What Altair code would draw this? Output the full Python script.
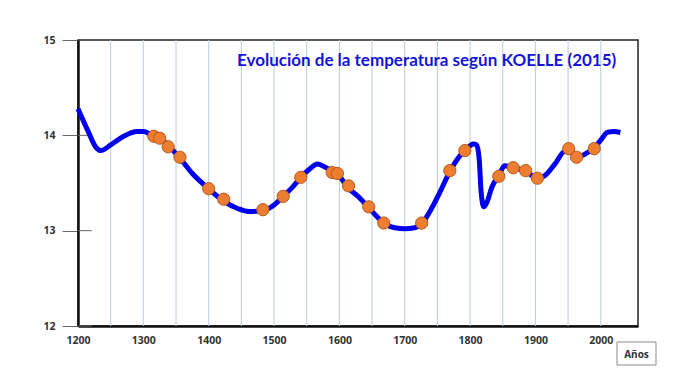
import altair as alt
import pandas as pd

# Curve (year, temperature)
line_years = [1200, 1215, 1228, 1235, 1250, 1270, 1290, 1300, 1316, 1327, 1340, 1356,
              1375, 1400, 1423, 1445, 1462, 1483, 1500, 1514, 1530, 1541, 1555, 1566,
              1580, 1590, 1598, 1612, 1630, 1645, 1660, 1670, 1685, 1700, 1715, 1727,
              1740, 1755, 1769, 1785, 1795, 1805, 1810, 1814, 1817, 1821, 1826, 1833,
              1844, 1853, 1866, 1878, 1890, 1903, 1915, 1930, 1945, 1955, 1963, 1975,
              1990, 2000, 2010, 2020, 2030]
line_temps = [14.28, 14.05, 13.87, 13.84, 13.90, 13.99, 14.04, 14.04, 13.99, 13.96, 13.88, 13.76,
              13.60, 13.44, 13.31, 13.23, 13.20, 13.21, 13.27, 13.36, 13.47, 13.56, 13.65, 13.70,
              13.66, 13.62, 13.59, 13.46, 13.35, 13.24, 13.13, 13.07, 13.03, 13.02, 13.03, 13.08,
              13.22, 13.42, 13.62, 13.79, 13.86, 13.91, 13.90, 13.75, 13.40, 13.25, 13.30, 13.45,
              13.58, 13.68, 13.66, 13.64, 13.60, 13.55, 13.58, 13.70, 13.83, 13.82, 13.77, 13.80,
              13.87, 13.95, 14.03, 14.04, 14.03]

# Orange data points
point_years = [1316, 1325, 1338, 1356, 1400, 1423, 1483, 1514, 1541, 1589, 1597, 1614,
               1645, 1668, 1726, 1769, 1792, 1844, 1866, 1885, 1903, 1951, 1963, 1990]
point_temps = [13.99, 13.97, 13.88, 13.77, 13.44, 13.33, 13.22, 13.36, 13.56, 13.61, 13.60, 13.47,
               13.25, 13.08, 13.08, 13.63, 13.84, 13.57, 13.66, 13.63, 13.55, 13.86, 13.77, 13.86]

grid_years = [1250, 1300, 1350, 1400, 1450, 1500, 1550, 1600, 1650, 1700, 1750, 1800,
              1850, 1900, 1950, 2000]
x_labels = [1200, 1300, 1400, 1500, 1600, 1700, 1800, 1900, 2000]
y_labels = [12, 13, 14, 15]
inner_tick_temps = [12, 13, 14]

title_text = "Evolución de la temperatura según KOELLE (2015)"
x_title = "Años"

line_df = pd.DataFrame({"year": line_years, "temp": line_temps})
pts_df = pd.DataFrame({"year": point_years, "temp": point_temps})
grid_df = pd.DataFrame({"year": grid_years})
itick_df = pd.DataFrame({"temp": inner_tick_temps, "x0": [1200] * 3, "x1": [1221] * 3})

xscale = alt.Scale(domain=[1200, 2057], nice=False, zero=False)
yscale = alt.Scale(domain=[12, 15], nice=False, zero=False)

xaxis = alt.Axis(values=x_labels, format="d", grid=False, ticks=False, labelPadding=9,
                 labelFont="Open Sans", labelFontWeight="bold", labelFontSize=10.5,
                 labelColor="#333", domainColor="#111", domainWidth=2.5,
                 title=x_title, titleFont="Open Sans", titleFontWeight="bold",
                 titleFontSize=10, titleColor="#333", titleX=558, titleY=28,
                 titleAlign="center", titleBaseline="middle", labelFlush=False)
yaxis = alt.Axis(values=y_labels, format="d", grid=False, tickSize=16, tickColor="#666",
                 tickWidth=1, labelPadding=7, labelFont="Open Sans", labelFontWeight="bold",
                 labelFontSize=10.5, labelColor="#333", domainColor="#111",
                 domainWidth=2.5, title=None)

grid = alt.Chart(grid_df).mark_rule(color="#b9cbe0", strokeWidth=1).encode(
    x=alt.X("year:Q", scale=xscale, axis=xaxis),
)

inner_ticks = alt.Chart(itick_df).mark_rule(color="#666", strokeWidth=1).encode(
    x=alt.X("x0:Q", scale=xscale),
    x2="x1:Q",
    y=alt.Y("temp:Q", scale=yscale, axis=yaxis),
)

line = alt.Chart(line_df).mark_line(color="#0000ee", strokeWidth=5,
                                    interpolate="monotone").encode(
    x=alt.X("year:Q", scale=xscale),
    y=alt.Y("temp:Q", scale=yscale),
)

points = alt.Chart(pts_df).mark_circle(size=150, color="#ed7d31", opacity=1,
                                       stroke="#b35a1f", strokeWidth=1).encode(
    x=alt.X("year:Q", scale=xscale),
    y=alt.Y("temp:Q", scale=yscale),
)

box = alt.Chart(pd.DataFrame({"k": [0]})).mark_rect(
    fill="transparent", stroke="#8a8a8a", strokeWidth=1).encode(
    x=alt.value(539), x2=alt.value(578), y=alt.value(302), y2=alt.value(325),
)

chart = alt.layer(grid, inner_ticks, line, points, box).properties(
    width=560, height=286,
    autosize=alt.AutoSizeParams(type="none"),
    padding={"left": 70, "top": 32, "right": 54, "bottom": 42},
    title=alt.TitleParams(title_text, color="#1414d8", font="Lato", fontWeight="bold",
                          fontSize=17, anchor="start", frame="group", orient="top",
                          offset=0, dx=159, dy=48, baseline="alphabetic"),
).configure_view(stroke="#222", strokeWidth=1.5)

chart.save("out.html", embed_options={"renderer": "svg", "actions": False})
